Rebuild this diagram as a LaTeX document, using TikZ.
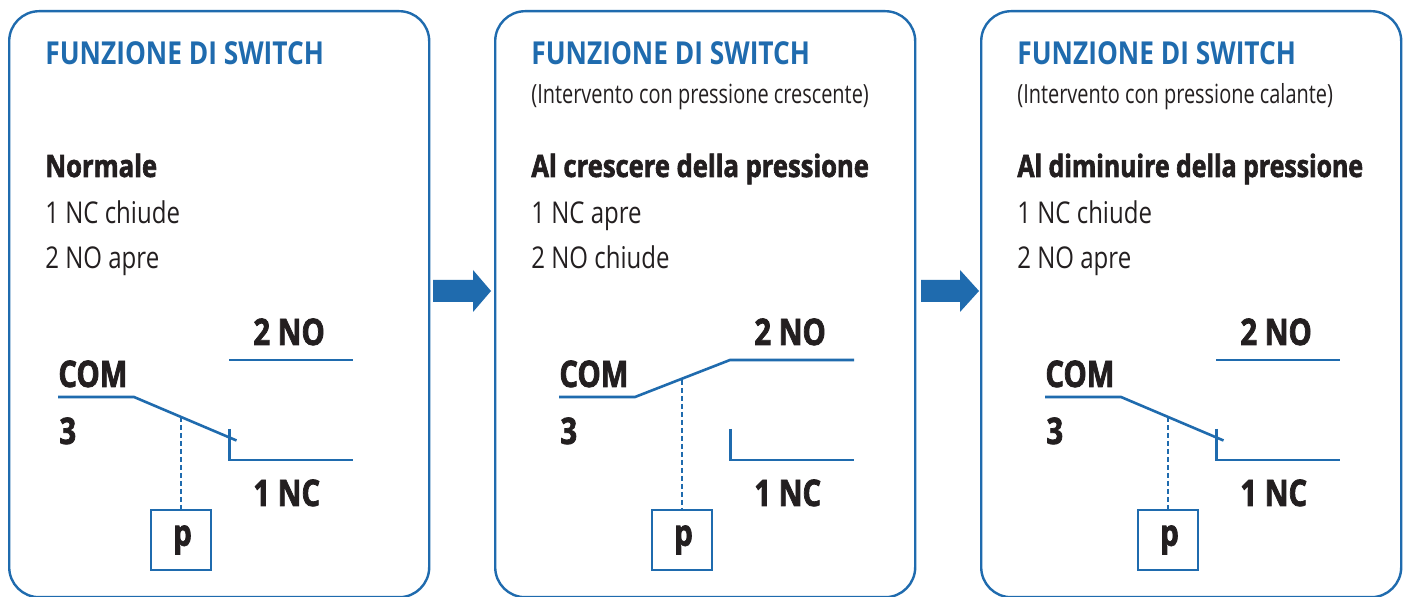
\documentclass[tikz,border=0pt]{standalone}
\usepackage{fontspec}
\setmainfont{Open Sans}
\newfontfamily\ftitle[FakeStretch=0.832,BoldFont={Open Sans Bold}]{Open Sans}
\newfontfamily\fbody[FakeStretch=0.80]{Open Sans}
\newfontfamily\fsub[FakeStretch=0.755]{Open Sans}
\newfontfamily\fheavy[FakeStretch=0.83,FakeBold=2]{Open Sans Bold}
\newfontfamily\ftight[FakeStretch=0.807,FakeBold=2]{Open Sans Bold}
\newfontfamily\flabel[FakeStretch=0.80,FakeBold=2]{Open Sans Bold}
\definecolor{sblue}{HTML}{1F6BAE}
\definecolor{sink}{HTML}{231F20}
\tikzset{
  x=0.5pt,y=-0.5pt,
  panelbox/.style={draw=sblue,line width=1.2pt,rounded corners=15pt,fill=white,minimum width=210pt,minimum height=293pt,anchor=north west,inner sep=0pt},
  wire/.style={draw=sblue,line width=1.3pt},
  link/.style={draw=sblue,line width=1.3pt,dash pattern=on 2.4pt off 1.6pt},
  ptxt/.style={inner sep=0pt,anchor=base west},
  titletxt/.style={ptxt,text=sblue,font=\ftitle\bfseries\fontsize{15.8}{18}\selectfont},
  subtxt/.style={ptxt,text=sink,font=\fsub\fontsize{13.2}{16}\selectfont},
  headtxt/.style={ptxt,text=sink,font=\fheavy\fontsize{15.4}{18}\selectfont},
  headtight/.style={ptxt,text=sink,font=\ftight\fontsize{15.4}{18}\selectfont},
  bodytxt/.style={ptxt,text=sink,font=\fbody\fontsize{15}{18}\selectfont},
  labtxt/.style={ptxt,text=sink,font=\flabel\fontsize{18.3}{20}\selectfont},
  pbox/.style={draw=sblue,line width=1.3pt,minimum size=30pt,inner sep=0pt,text=sink,font=\flabel\fontsize{18.3}{20}\selectfont},
  flow/.style={fill=sblue,draw=none},
}
\newcommand{\labels}[1]{%
  \node[labtxt] (#1no) at (253,345) {2 NO};
  \node[labtxt] (#1com) at (58,387) {COM};
  \node[labtxt] (#1three) at (59,444) {3};
  \node[labtxt] (#1nc) at (253,506) {1 NC};
  \node[pbox] (#1p) at (181,540) {\raisebox{-1pt}{\hspace{1.5pt}p}};
  \coordinate (#1a) at (58,397);
  \coordinate (#1b) at (134,397);
  \coordinate (#1f) at (229,360);
  \coordinate (#1g) at (353,360);
  \coordinate (#1h) at (229.5,429);
  \coordinate (#1i) at (229.5,460);
  \coordinate (#1j) at (353,460);
}
\begin{document}
\begin{tikzpicture}
\useasboundingbox (0,0) rectangle (1407,597);
\fill[white] (0,0) rectangle (1407,597);
\begin{scope}
\clip (0,0) rectangle (1407,597);
\node[panelbox] (box1) at (8,10) {};
\node[panelbox] (box2) at (494,10) {};
\node[panelbox] (box3) at (980,10) {};
\end{scope}
% panel 1
\node[titletxt] (t1) at (45,65) {FUNZIONE DI SWITCH};
\node[headtxt] (h1) at (45,177) {Normale};
\node[bodytxt] (l1a) at (45,224) {1 NC chiude};
\node[bodytxt] (l1b) at (45,269) {2 NO apre};
\labels{a}
\coordinate (ae) at (236.5,440.5);
\coordinate (at) at (181,417);
\draw[wire] (aa) -- (ab) -- (ae);
\draw[wire] (af) -- (ag);
\draw[wire] (ah) -- (ai) -- (aj);
\draw[link] (at) -- (ap.north);
% panel 2
\node[titletxt] (t2) at (531,65) {FUNZIONE DI SWITCH};
\node[subtxt] (s2) at (531,104) {(Intervento con pressione crescente)};
\node[headtxt] (h2) at (531,177) {Al crescere della pressione};
\node[bodytxt] (l2a) at (531,224) {1 NC apre};
\node[bodytxt] (l2b) at (531,269) {2 NO chiude};
\begin{scope}[shift={(501,0)}]
\labels{b}
\coordinate (bt) at (181,380);
\draw[wire] (ba) -- (bb) -- (bf) -- (bg);
\draw[wire] (bh) -- (bi) -- (bj);
\draw[link] (bt) -- (bp.north);
\end{scope}
% panel 3
\node[titletxt] (t3) at (1017,65) {FUNZIONE DI SWITCH};
\node[subtxt] (s3) at (1017,104) {(Intervento con pressione calante)};
\node[headtight] (h3) at (1017,177) {Al diminuire della pressione};
\node[bodytxt] (l3a) at (1017,224) {1 NC chiude};
\node[bodytxt] (l3b) at (1017,269) {2 NO apre};
\begin{scope}[shift={(987,0)}]
\labels{c}
\coordinate (ce) at (236.5,440.5);
\coordinate (ct) at (181,417);
\draw[wire] (ca) -- (cb) -- (ce);
\draw[wire] (cf) -- (cg);
\draw[wire] (ch) -- (ci) -- (cj);
\draw[link] (ct) -- (cp.north);
\end{scope}
% flow arrows
\fill[flow] (433,280) -- (473,280) -- (473,270) -- (491,291) -- (473,312) -- (473,302) -- (433,302) -- cycle;
\fill[flow] (921,280) -- (960,280) -- (960,270) -- (979,291) -- (960,312) -- (960,302) -- (921,302) -- cycle;
\end{tikzpicture}
\end{document}
